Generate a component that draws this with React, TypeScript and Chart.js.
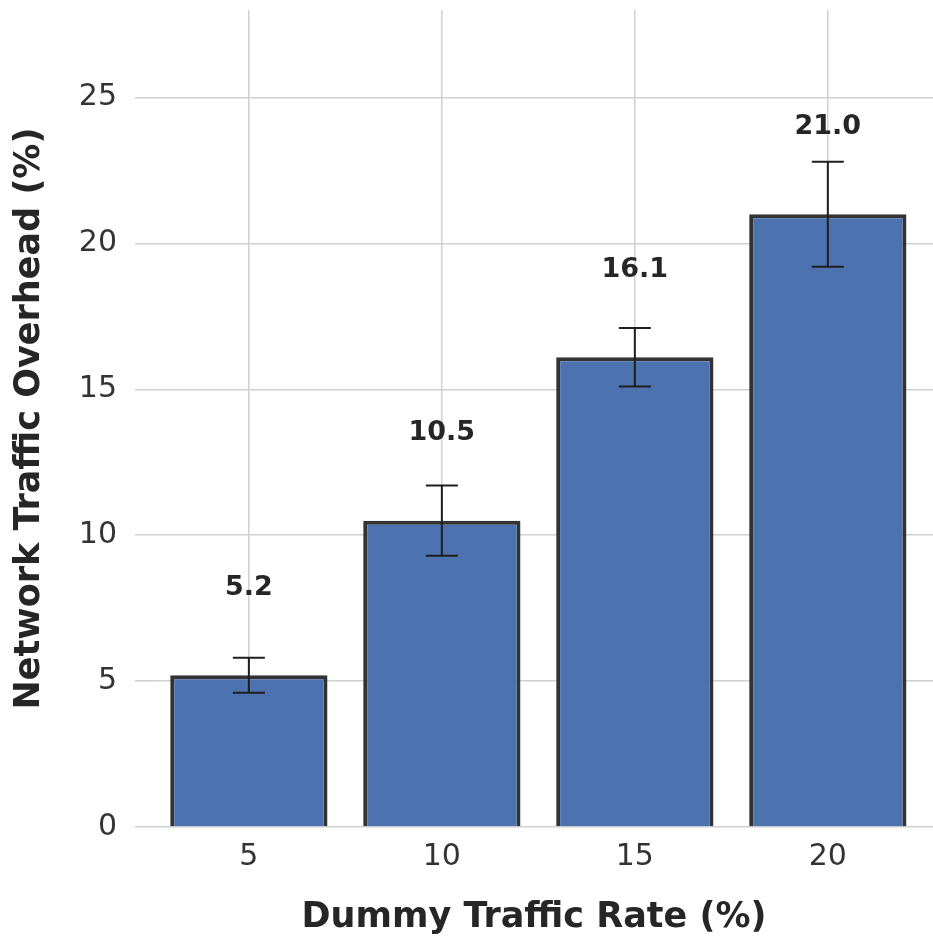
import React, { useEffect, useRef } from "react";
import { Chart, registerables } from "chart.js";

Chart.register(...registerables);

const categories = ["5", "10", "15", "20"];
const overhead = [5.2, 10.5, 16.1, 21.0];
const errors = [0.6, 1.2, 1.0, 1.8];
const yTicks = [0, 5, 10, 15, 20, 25];

const FONT = "'DejaVu Sans', sans-serif";

const errorBarPlugin = {
  id: "errorBars",
  afterDatasetsDraw(chart: any) {
    const { ctx, scales } = chart;
    const xs = scales.x;
    const ys = scales.y;
    ctx.save();
    overhead.forEach((v, i) => {
      const x = xs.getPixelForValue(i);
      const yTop = ys.getPixelForValue(v + errors[i]);
      const yBot = ys.getPixelForValue(v - errors[i]);
      ctx.strokeStyle = "#1f1f1f";
      ctx.lineWidth = 2;
      ctx.beginPath();
      ctx.moveTo(x, yTop);
      ctx.lineTo(x, yBot);
      ctx.moveTo(x - 16, yTop);
      ctx.lineTo(x + 16, yTop);
      ctx.moveTo(x - 16, yBot);
      ctx.lineTo(x + 16, yBot);
      ctx.stroke();
      ctx.fillStyle = "#262626";
      ctx.font = `bold 27px ${FONT}`;
      ctx.textAlign = "center";
      ctx.textBaseline = "middle";
      ctx.fillText(v.toFixed(1), x, ys.getPixelForValue(v + 3));
    });
    ctx.restore();
  },
};

export default function App() {
  const ref = useRef<HTMLCanvasElement>(null);
  useEffect(() => {
    document.body.style.margin = "0";
    const chart = new Chart(ref.current!, {
      type: "bar",
      data: {
        datasets: [
          {
            data: overhead.map((v, i) => ({ x: i, y: v })),
            backgroundColor: "#4C72B0",
            borderColor: "#333333",
            borderWidth: 4,
            categoryPercentage: 1,
            barPercentage: 0.815,
          },
        ],
      },
      options: {
        animation: false,
        responsive: false,
        maintainAspectRatio: false,
        layout: { padding: { top: 10, left: 0, right: 0, bottom: 0 } },
        plugins: { legend: { display: false }, tooltip: { enabled: false } },
        scales: {
          x: {
            type: "linear",
            offset: false,
            min: -0.59,
            max: 3.545,
            afterBuildTicks: (s: any) => {
              s.ticks = categories.map((_, i) => ({ value: i }));
            },
            afterFit: (s: any) => {
              s.height = 109;
              s.paddingLeft = 0;
              s.paddingRight = 0;
            },
            ticks: {
              callback: (v: any) => categories[v as number] ?? "",
              font: { family: FONT, size: 30 },
              color: "#333333",
              padding: 12,
              maxRotation: 0,
              autoSkip: false,
            },
            grid: { color: "#d0d0d0", lineWidth: 1.5, drawTicks: false, offset: false },
            border: { display: false },
            title: {
              display: true,
              text: "Dummy Traffic Rate (%)",
              font: { family: FONT, size: 35, weight: "bold", lineHeight: 1 },
              color: "#262626",
              padding: { top: 0, bottom: 1 },
            },
          },
          y: {
            min: 0,
            max: 28,
            afterBuildTicks: (s: any) => {
              s.ticks = yTicks.map((v) => ({ value: v }));
            },
            afterFit: (s: any) => {
              s.width = 135;
              s.paddingTop = 0;
              s.paddingBottom = 0;
            },
            ticks: {
              font: { family: FONT, size: 30 },
              color: "#333333",
              padding: 18,
            },
            grid: { color: "#d0d0d0", lineWidth: 1.5, drawTicks: false },
            border: { display: false },
            title: {
              display: true,
              text: "Network Traffic Overhead (%)",
              font: { family: FONT, size: 35, weight: "bold", lineHeight: 1 },
              color: "#262626",
              padding: { top: 12, bottom: 0 },
            },
          },
        },
      },
      plugins: [errorBarPlugin],
    } as any);
    return () => chart.destroy();
  }, []);
  return (
    <div style={{ width: 933, height: 936, position: "relative" }}>
      <canvas ref={ref} width={933} height={936} style={{ width: 933, height: 936 }} />
    </div>
  );
}
